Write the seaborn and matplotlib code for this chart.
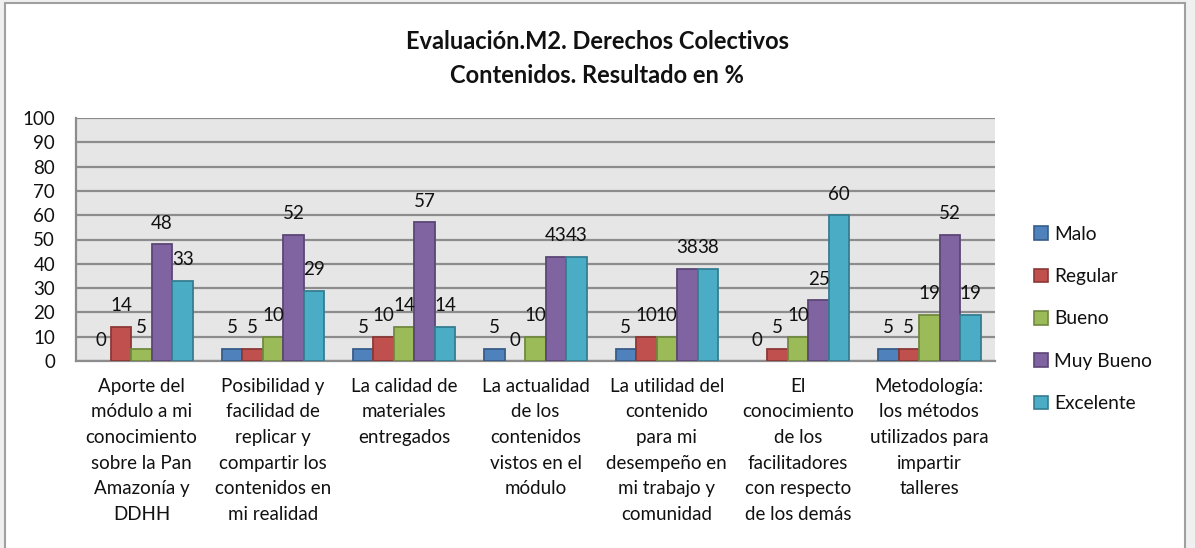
import matplotlib
matplotlib.use("Agg")
import numpy as np
import pandas as pd
import matplotlib.pyplot as plt
import seaborn as sns
from matplotlib.patches import Rectangle, Patch

# Datos (porcentajes)
CATEGORIAS = [
    "Aporte del\nmódulo a mi\nconocimiento\nsobre la Pan\nAmazonía y\nDDHH",
    "Posibilidad y\nfacilidad de\nreplicar y\ncompartir los\ncontenidos en\nmi realidad",
    "La calidad de\nmateriales\nentregados",
    "La actualidad\nde los\ncontenidos\nvistos en el\nmódulo",
    "La utilidad del\ncontenido\npara mi\ndesempeño en\nmi trabajo y\ncomunidad",
    "El\nconocimiento\nde los\nfacilitadores\ncon respecto\nde los demás",
    "Metodología:\nlos métodos\nutilizados para\nimpartir\ntalleres",
]
NIVELES = ["Malo", "Regular", "Bueno", "Muy Bueno", "Excelente"]
MALO = [0, 5, 5, 5, 5, 0, 5]
REGULAR = [14, 5, 10, 0, 10, 5, 5]
BUENO = [5, 10, 14, 10, 10, 10, 19]
MUY_BUENO = [48, 52, 57, 43, 38, 25, 52]
EXCELENTE = [33, 29, 14, 43, 38, 60, 19]
Y_TICKS = list(range(0, 101, 10))

COLORES = ["#4F81BD", "#C0504D", "#9BBB59", "#8064A2", "#4BACC6"]
BORDES = ["#385D8A", "#8C3836", "#71893F", "#5C4776", "#357D91"]

sns.set_style("white")
plt.rcParams["font.family"] = ["Lato", "DejaVu Sans"]

df = pd.DataFrame({
    "categoria": np.repeat(CATEGORIAS, len(NIVELES)),
    "nivel": NIVELES * len(CATEGORIAS),
    "valor": np.column_stack([MALO, REGULAR, BUENO, MUY_BUENO, EXCELENTE]).ravel(),
})

fig = plt.figure(figsize=(11.95, 5.48), dpi=100, facecolor="#f0f0f0")
fig.patches.append(Rectangle((5 / 1195, -0.01), 1180 / 1195, 1.01 - 3 / 548,
                             transform=fig.transFigure, facecolor="white",
                             edgecolor="#a0a0a0", lw=1.5, zorder=-5))
ax = fig.add_axes([76 / 1195, 1 - 361 / 548, 919 / 1195, 243 / 548])
ax.set_facecolor("#e6e6e6")

sns.barplot(data=df, x="categoria", y="valor", hue="nivel", order=CATEGORIAS,
            hue_order=NIVELES, palette=COLORES, width=0.78, gap=0,
            saturation=1, ax=ax, legend=False, zorder=3)

for cont, borde in zip(ax.containers, BORDES):
    for barra in cont:
        barra.set_edgecolor(borde)
        # barras en cero no se ven en el original
        barra.set_linewidth(1.3 if barra.get_height() > 0 else 0)
    ax.bar_label(cont, fmt="%g", padding=9, fontsize=13.5, color="#111111")

ax.set_ylim(0, 100)
ax.set_yticks(Y_TICKS)
ax.yaxis.grid(True, color="#8c8c8c", lw=1.6, zorder=0)
ax.set_axisbelow(True)
for lado in ["top", "right"]:
    ax.spines[lado].set_visible(False)
for lado in ["left", "bottom"]:
    ax.spines[lado].set_color("#8c8c8c")
    ax.spines[lado].set_linewidth(1.6)
ax.tick_params(axis="y", length=0, pad=15, labelsize=13.5, labelcolor="#111111")
ax.tick_params(axis="x", length=0, pad=12, labelsize=13.5, labelcolor="#111111")
for t in ax.get_xticklabels():
    t.set_linespacing(1.62)
ax.set_xlabel("")
ax.set_ylabel("")

fig.text(0.4996, 0.893, "Evaluación.M2. Derechos Colectivos\nContenidos. Resultado en %",
         ha="center", va="center", fontsize=17, fontweight="bold", linespacing=1.6,
         color="#111111")

handles = [Patch(facecolor=c, edgecolor=b, lw=1.2) for c, b in zip(COLORES, BORDES)]
fig.legend(handles, NIVELES, loc="center left", bbox_to_anchor=(1017 / 1195, 1 - 319 / 548),
           frameon=False, fontsize=13.8, labelspacing=1.32, handlelength=0.7,
           handleheight=0.7, handletextpad=0.35, labelcolor="#111111")

fig.savefig("out.png", dpi=100, facecolor=fig.get_facecolor())
